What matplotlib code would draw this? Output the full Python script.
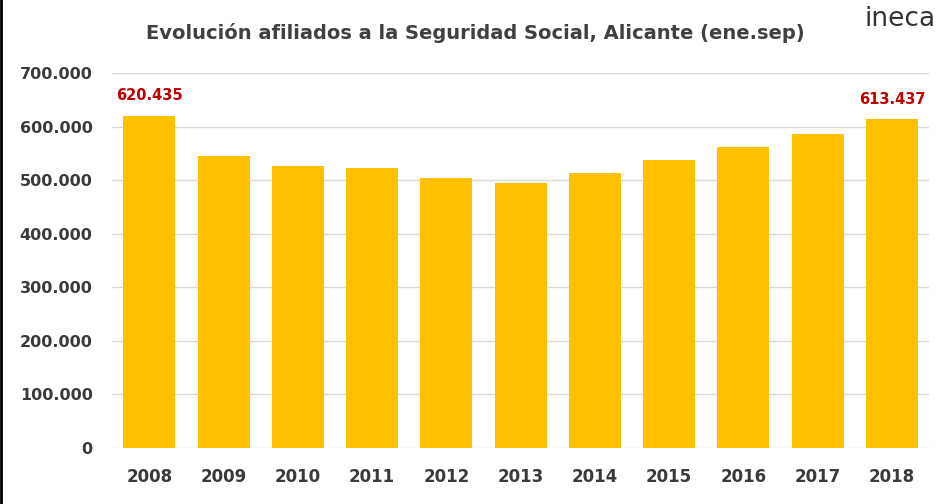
import matplotlib
matplotlib.use("Agg")
import matplotlib.pyplot as plt
from matplotlib.lines import Line2D

years = ["2008", "2009", "2010", "2011", "2012", "2013", "2014", "2015", "2016", "2017", "2018"]
afiliados = [620435, 545000, 527000, 522000, 505000, 495000, 514000, 537000, 562000, 586000, 613437]
yticks = [0, 100000, 200000, 300000, 400000, 500000, 600000, 700000]
ytick_labels = ["0", "100.000", "200.000", "300.000", "400.000", "500.000", "600.000", "700.000"]
labeled = {0: "620.435", 10: "613.437"}

plt.rcParams['font.family'] = ['DejaVu Sans']

fig = plt.figure(figsize=(9.5, 5.04), dpi=100)
ax = fig.add_axes([0.118, 0.111, 0.86, 0.744])

x = list(range(len(years)))
ax.bar(x, afiliados, width=0.70, color="#FFC000", zorder=2)
ax.set_ylim(0, 700000)
ax.set_xlim(-0.5, len(years) - 0.5)
ax.set_yticks(yticks)
ax.set_yticklabels(ytick_labels)
ax.set_xticks(x)
ax.set_xticklabels(years)
ax.grid(axis="y", color="#D9D9D9", linewidth=1.0, zorder=0)
for s in ax.spines.values():
    s.set_visible(False)
ax.tick_params(axis="both", length=0, colors="#3A3A3A")
ax.tick_params(axis="y", pad=14, labelsize=11.5)
ax.tick_params(axis="x", pad=14, labelsize=12)
for lbl in ax.get_xticklabels() + ax.get_yticklabels():
    lbl.set_fontweight("bold")

for i, t in labeled.items():
    ax.annotate(t, (x[i], afiliados[i]), xytext=(0, 9), textcoords="offset points",
                ha="center", va="bottom", color="#C00000", fontsize=10.5, fontweight="bold")

fig.text(0.5, 0.935, "Evolución afiliados a la Seguridad Social, Alicante (ene.sep)",
         ha="center", va="center", fontsize=14, fontweight="bold", color="#404040")
fig.text(0.91, 0.962, "ineca", ha="left", va="center", fontsize=19, color="#333333")
fig.add_artist(Line2D([0.001, 0.001], [0, 1], transform=fig.transFigure, color="black", linewidth=2))

fig.savefig("out.png", dpi=100)
